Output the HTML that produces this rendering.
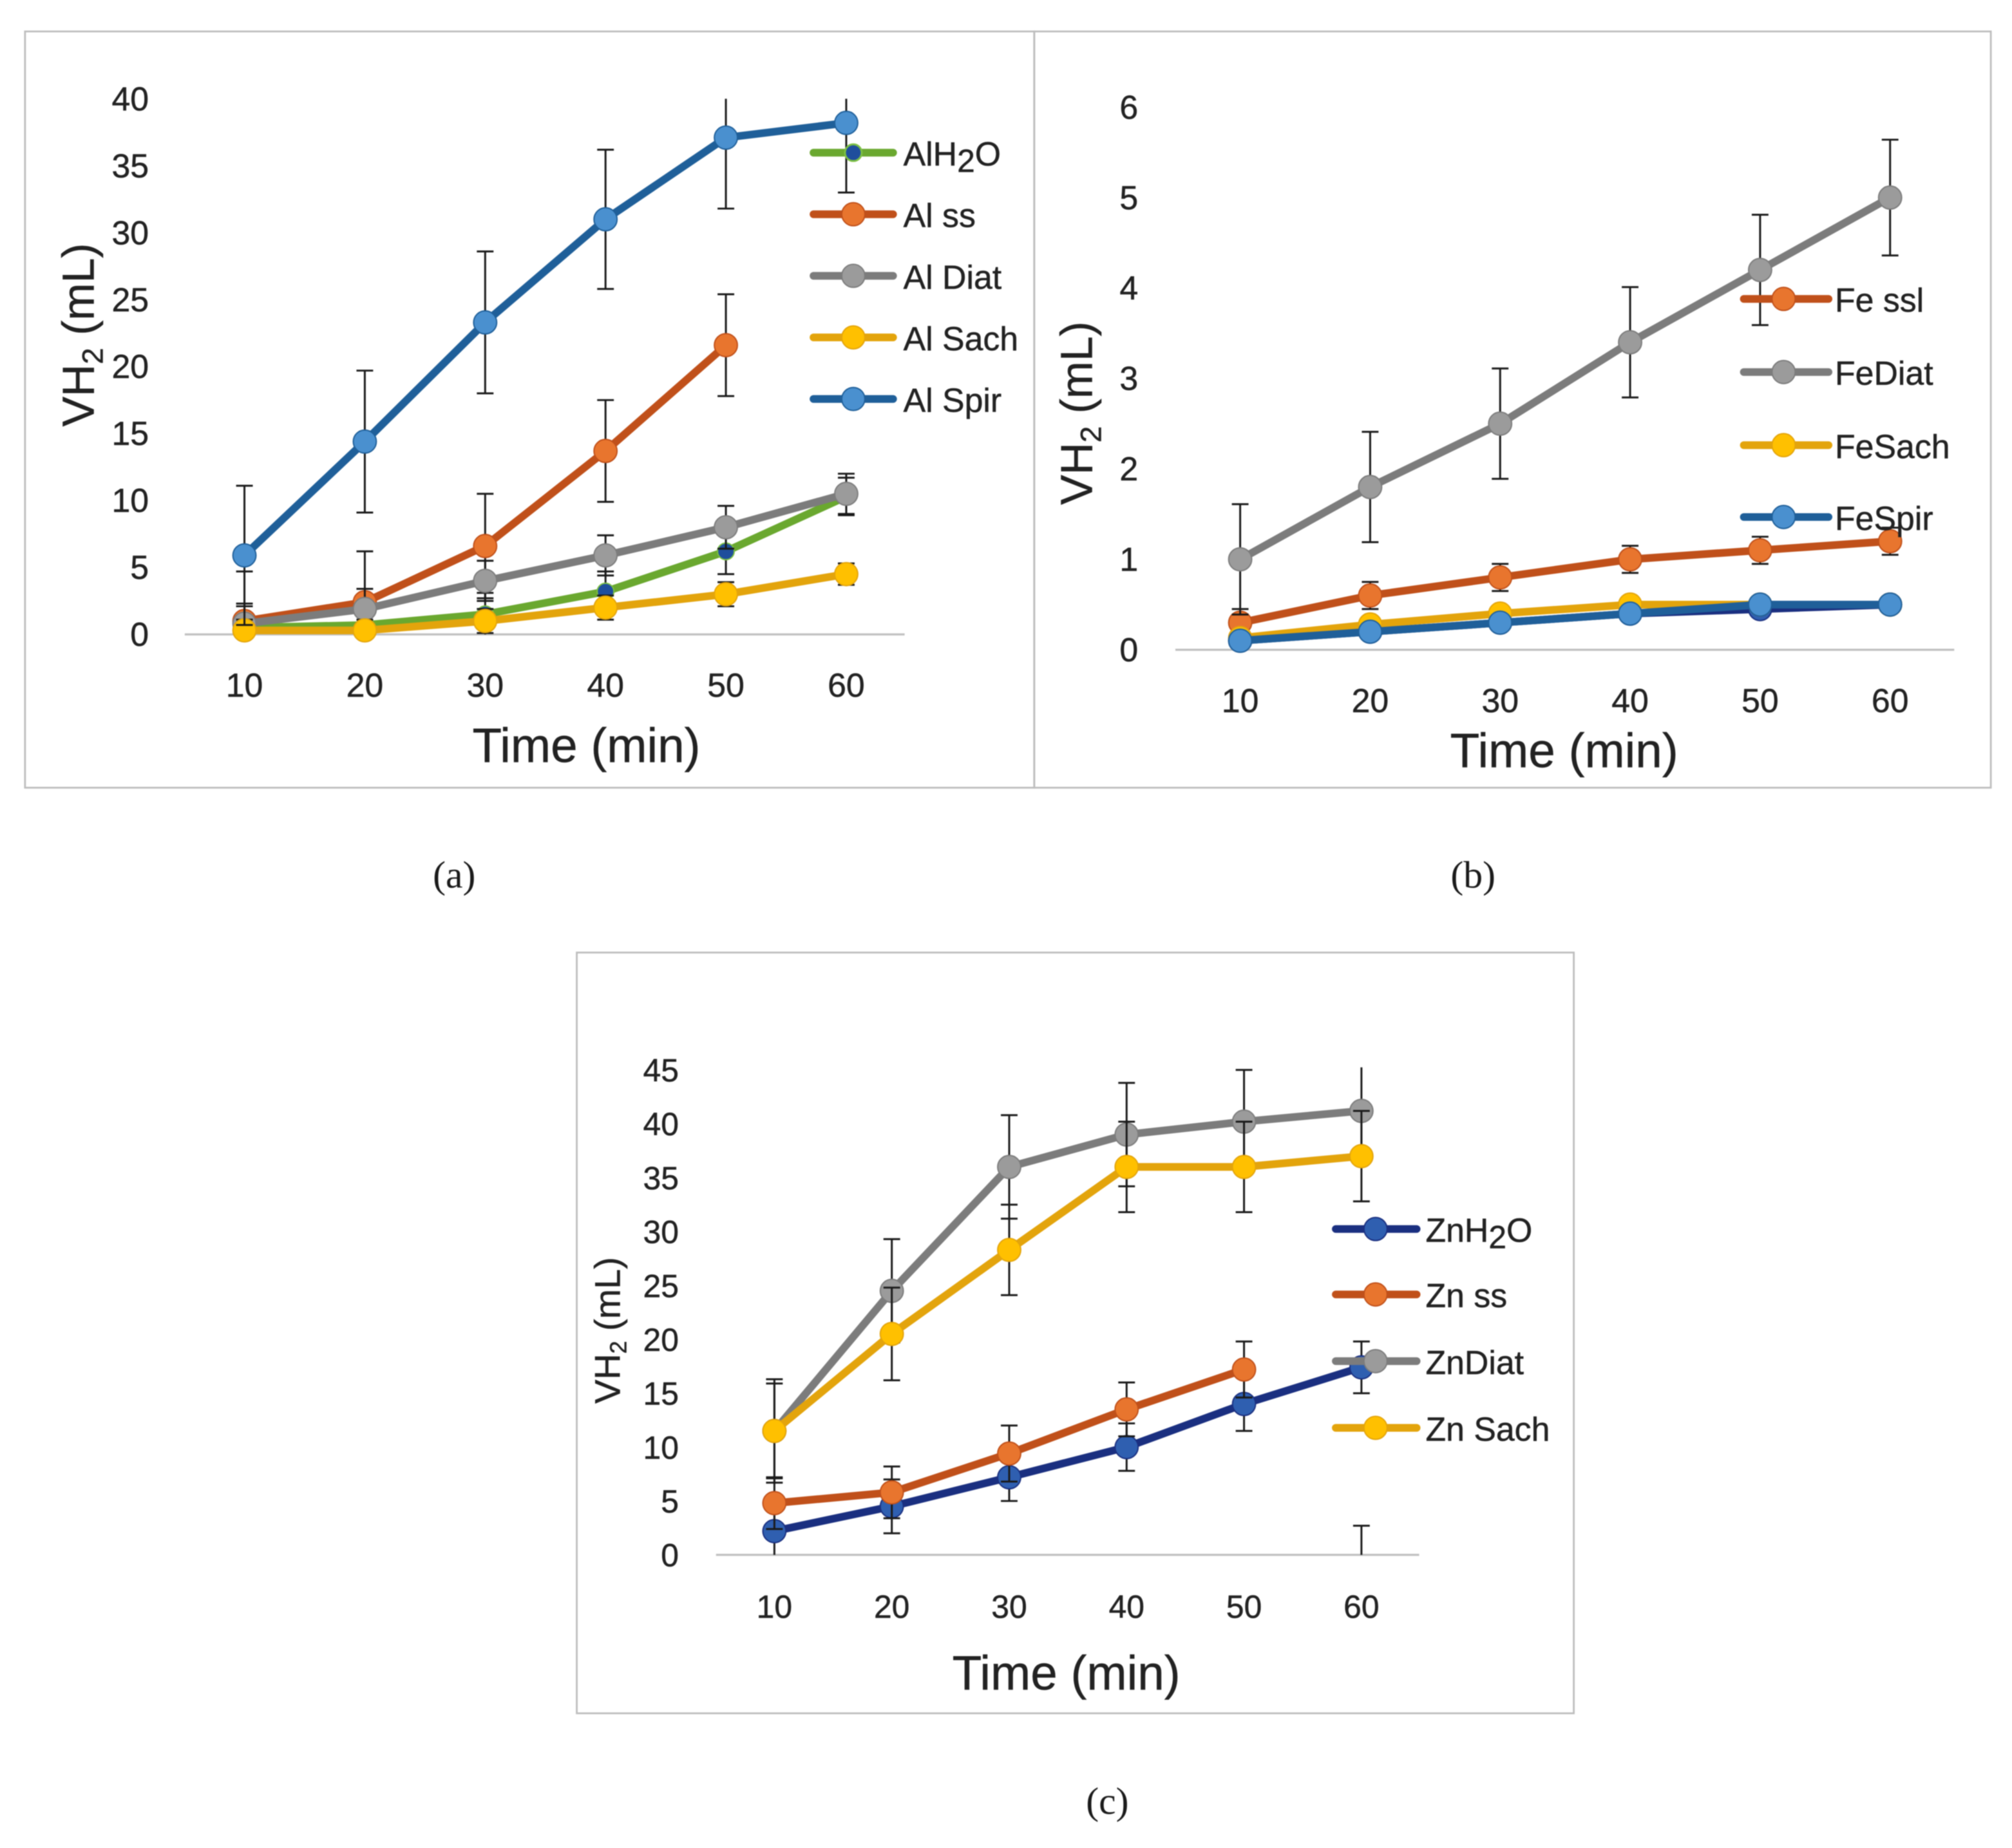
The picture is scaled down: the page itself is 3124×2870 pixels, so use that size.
<!DOCTYPE html>
<html lang="en">
<head>
<meta charset="utf-8">
<title>Hydrogen volume over time</title>
<style>
html,body{margin:0;padding:0;background:#fff;}
svg{display:block;filter:blur(0.8px);}
text{font-family:"Liberation Sans",sans-serif;fill:#222;stroke:#222;stroke-width:0.25px;}
.cap{font-family:"Liberation Serif",serif;font-size:30px;fill:#1a1a1a;text-anchor:middle;stroke:none;}
.leg{font-size:26px;}
.title{font-size:37.5px;text-anchor:middle;}
.frame{fill:none;stroke:#bdbdbd;stroke-width:1.4;}
.ll{stroke-width:6;fill:none;stroke-linecap:round;}
</style>
</head>
<body>
<svg id="fig" xmlns="http://www.w3.org/2000/svg" width="3124" height="2870" viewBox="0 0 1568 1440.5">
  <rect x="0" y="0" width="1568" height="1440.5" fill="#fff"/>
  <defs>
    <clipPath id="clipA"><rect x="100" y="77" width="640" height="417.5"/></clipPath>
    <clipPath id="clipB"><rect x="880" y="83.5" width="660" height="422.5"/></clipPath>
    <clipPath id="clipC"><rect x="540" y="832" width="600" height="380"/></clipPath>
  </defs>

  <rect class="frame" x="19.5" y="24.5" width="786.5" height="589.5"/>
  <rect class="frame" x="806" y="24.5" width="745.5" height="589.5"/>
  <rect class="frame" x="449.5" y="742.5" width="777" height="593"/>

  <g id="chartA"></g>
  <g id="chartB"></g>
  <g id="chartC"></g>

  <!-- titles -->
  <text class="title" x="457" y="594">Time (min)</text>
  <text class="title" x="1219" y="598">Time (min)</text>
  <text class="title" x="831" y="1317">Time (min)</text>
  <text class="title" style="font-size:35px" transform="translate(73,261) rotate(-90)">VH<tspan dy="7" font-size="23">2</tspan><tspan dy="-7"> (mL)</tspan></text>
  <text class="title" style="font-size:35px" transform="translate(851,322) rotate(-90)">VH<tspan dy="7" font-size="23">2</tspan><tspan dy="-7"> (mL)</tspan></text>
  <text class="title" style="font-size:28px" transform="translate(483,1037) rotate(-90)">VH<tspan dy="5" font-size="18">2</tspan><tspan dy="-5"> (mL)</tspan></text>

  <!-- legend A -->
  <g>
    <g><line class="ll" x1="634" x2="696" y1="119" y2="119" stroke="#6aa82f"/><circle cx="665" cy="119" r="6.5" fill="#1f4e9c" stroke="#7cc043" stroke-width="1.5"/><text class="leg" x="704" y="129">AlH<tspan dy="5" font-size="25">2</tspan><tspan dy="-5">O</tspan></text></g>
    <g><line class="ll" x1="634" x2="696" y1="167" y2="167" stroke="#c0501a"/><circle cx="665" cy="167" r="9" fill="#e8752e" stroke="#c0501a" stroke-width="1"/><text class="leg" x="704" y="177">Al ss</text></g>
    <g><line class="ll" x1="634" x2="696" y1="215" y2="215" stroke="#7c7c7c"/><circle cx="665" cy="215" r="9" fill="#9b9b9b" stroke="#7c7c7c" stroke-width="1"/><text class="leg" x="704" y="225">Al Diat</text></g>
    <g><line class="ll" x1="634" x2="696" y1="263" y2="263" stroke="#e3a40c"/><circle cx="665" cy="263" r="9" fill="#ffc000" stroke="#e3a40c" stroke-width="1"/><text class="leg" x="704" y="273">Al Sach</text></g>
    <g><line class="ll" x1="634" x2="696" y1="311" y2="311" stroke="#1f5f99"/><circle cx="665" cy="311" r="9" fill="#4a90cf" stroke="#1f5f99" stroke-width="1"/><text class="leg" x="704" y="321">Al Spir</text></g>
  </g>

  <!-- legend B -->
  <g>
    <g><line class="ll" x1="1359" x2="1425" y1="233" y2="233" stroke="#c0501a"/><circle cx="1390" cy="233" r="9" fill="#e8752e" stroke="#c0501a" stroke-width="1"/><text class="leg" x="1430" y="243">Fe ssl</text></g>
    <g><line class="ll" x1="1359" x2="1425" y1="290" y2="290" stroke="#7c7c7c"/><circle cx="1390" cy="290" r="9" fill="#9b9b9b" stroke="#7c7c7c" stroke-width="1"/><text class="leg" x="1430" y="300">FeDiat</text></g>
    <g><line class="ll" x1="1359" x2="1425" y1="347" y2="347" stroke="#e3a40c"/><circle cx="1390" cy="347" r="9" fill="#ffc000" stroke="#e3a40c" stroke-width="1"/><text class="leg" x="1430" y="357">FeSach</text></g>
    <g><line class="ll" x1="1359" x2="1425" y1="403" y2="403" stroke="#1f5f99"/><circle cx="1390" cy="403" r="9" fill="#4a90cf" stroke="#1f5f99" stroke-width="1"/><text class="leg" x="1430" y="413">FeSpir</text></g>
  </g>

  <!-- legend C -->
  <g>
    <g><line class="ll" x1="1041" x2="1104" y1="958" y2="958" stroke="#1a2f80"/><circle cx="1072" cy="958" r="9" fill="#2f5fb0" stroke="#1a2f80" stroke-width="1"/><text class="leg" x="1111" y="968">ZnH<tspan dy="5" font-size="25">2</tspan><tspan dy="-5">O</tspan></text></g>
    <g><line class="ll" x1="1041" x2="1104" y1="1009" y2="1009" stroke="#c0501a"/><circle cx="1072" cy="1009" r="9" fill="#e8752e" stroke="#c0501a" stroke-width="1"/><text class="leg" x="1111" y="1019">Zn ss</text></g>
    <g><line class="ll" x1="1041" x2="1104" y1="1061" y2="1061" stroke="#7c7c7c"/><circle cx="1072" cy="1061" r="9" fill="#9b9b9b" stroke="#7c7c7c" stroke-width="1"/><text class="leg" x="1111" y="1071">ZnDiat</text></g>
    <g><line class="ll" x1="1041" x2="1104" y1="1113" y2="1113" stroke="#e3a40c"/><circle cx="1072" cy="1113" r="9" fill="#ffc000" stroke="#e3a40c" stroke-width="1"/><text class="leg" x="1111" y="1123">Zn Sach</text></g>
  </g>

  <text class="cap" x="354" y="692">(a)</text>
  <text class="cap" x="1148" y="692">(b)</text>
  <text class="cap" x="863" y="1414">(c)</text>
</svg>

<script>
// Shared categories
const categories = [10, 20, 30, 40, 50, 60];

// Panel (a)
const yTicksA = [0, 5, 10, 15, 20, 25, 30, 35, 40];
const alH2oValues = [0.5, 0.7, 1.5, 3.2, 6.2, 10.3];
const alH2oErrors = [1.6, 1.6, 1.6, 1.5, 1.7, 1.4];
const alSsValues = [1.0, 2.4, 6.6, 13.7, 21.6, null];
const alSsErrors = [3.7, 3.8, 3.9, 3.8, 3.8, null];
const alDiatValues = [0.8, 1.9, 4.0, 5.9, 8.0, 10.5];
const alDiatErrors = [1.5, 1.5, 1.5, 1.5, 1.6, 1.5];
const alSachValues = [0.3, 0.3, 1.0, 2.0, 3.0, 4.5];
const alSachErrors = [0.8, 0.8, 0.9, 0.9, 0.9, 0.8];
const alSpirValues = [5.9, 14.4, 23.3, 31.0, 37.1, 38.2];
const alSpirErrors = [5.2, 5.3, 5.3, 5.2, 5.3, 5.2];

// Panel (b)
const yTicksB = [0, 1, 2, 3, 4, 5, 6];
const feH2oValues = [0.1, 0.2, 0.3, 0.4, 0.45, 0.5];
const feH2oErrors = [0.03, 0.03, 0.03, 0.03, 0.03, 0.03];
const feSslValues = [0.3, 0.6, 0.8, 1.0, 1.1, 1.2];
const feSslErrors = [0.15, 0.15, 0.15, 0.15, 0.15, 0.15];
const feDiatValues = [1.0, 1.8, 2.5, 3.4, 4.2, 5.0];
const feDiatErrors = [0.61, 0.61, 0.61, 0.61, 0.61, 0.64];
const feSachValues = [0.13, 0.28, 0.4, 0.5, 0.5, 0.5];
const feSachErrors = [0.03, 0.03, 0.03, 0.03, 0.03, 0.03];
const feSpirValues = [0.1, 0.2, 0.3, 0.4, 0.5, 0.5];
const feSpirErrors = [0.03, 0.03, 0.03, 0.03, 0.03, 0.03];

// Panel (c)
const yTicksC = [0, 5, 10, 15, 20, 25, 30, 35, 40, 45];
const znH2oValues = [2.2, 4.5, 7.2, 10.0, 14.0, 17.4];
const znH2oErrors = [2.4, 2.5, 2.2, 2.2, 2.5, 2.4];
const znSsValues = [4.8, 5.8, 9.4, 13.5, 17.2, null];
const znSsErrors = [2.4, 2.4, 2.6, 2.5, 2.6, null];
const znSsStrayValues = [null, null, null, null, null, 0];
const znSsStrayErrors = [null, null, null, null, null, 2.7];
const znDiatValues = [11.5, 24.5, 36.0, 39.0, 40.2, 41.2];
const znDiatErrors = [4.8, 4.8, 4.8, 4.8, 4.8, 4.8];
const znSachValues = [11.5, 20.5, 28.3, 36.0, 36.0, 37.0];
const znSachErrors = [4.4, 4.3, 4.2, 4.2, 4.2, 4.2];

const SVGNS = 'http://www.w3.org/2000/svg';
const STYLE_NAVY = { line: '#1a2f80', fill: '#2f5fb0', r: 9, edge: '#1a2f80' };
const STYLE_GREEN = { line: '#6aa82f', fill: '#1f4e9c', r: 6.5, edge: '#7cc043' };
const STYLE_ORANGE = { line: '#c0501a', fill: '#e8752e', r: 9, edge: '#c0501a' };
const STYLE_GREY = { line: '#7c7c7c', fill: '#9b9b9b', r: 9, edge: '#7c7c7c' };
const STYLE_YELLOW = { line: '#e3a40c', fill: '#ffc000', r: 9, edge: '#e3a40c' };
const STYLE_BLUE = { line: '#1f5f99', fill: '#4a90cf', r: 9, edge: '#1f5f99' };

function make(tag, attrs) {
  const el = document.createElementNS(SVGNS, tag);
  for (const k in attrs) el.setAttribute(k, attrs[k]);
  return el;
}

function linearScale(d0, d1, r0, r1) {
  return function (v) { return r0 + (v - d0) * (r1 - r0) / (d1 - d0); };
}

const xA = linearScale(10, 60, 190.5, 659.5);
const yA = linearScale(0, 40, 494.5, 77);
const xB = linearScale(10, 60, 966.5, 1473);
const yB = linearScale(0, 6, 506.5, 83.5);
const xC = linearScale(10, 60, 603.5, 1061);
const yC = linearScale(0, 45, 1212, 834);

function drawAxes(parent, prefix, x, y, yTicks, axisLeft, axisRight, labelRight, xLabelBaseline, fontSize) {
  const axis = make('line', { x1: axisLeft, x2: axisRight, y1: y(0), y2: y(0), stroke: '#bfbfbf', 'stroke-width': 1.6 });
  
  
  parent.appendChild(axis);
  yTicks.forEach(function (t) {
    const label = make('text', { x: labelRight, y: y(t) + 9, 'text-anchor': 'end', 'font-size': fontSize });
    
    
    label.textContent = t;
    parent.appendChild(label);
  });
  categories.forEach(function (c) {
    const label = make('text', { x: x(c), y: xLabelBaseline, 'text-anchor': 'middle', 'font-size': fontSize });
    
    
    label.textContent = c;
    parent.appendChild(label);
  });
}

function drawErrors(parent, name, values, errors, x, y, clipId) {
  const g = make('g', { stroke: '#1a1a1a', 'stroke-width': 1.5, fill: 'none', 'clip-path': 'url(#' + clipId + ')' });
  
  
  categories.forEach(function (c, i) {
    if (values[i] === null || errors[i] === null) return;
    const hi = y(values[i] + errors[i]);
    const lo = y(values[i] - errors[i]);
    const px = x(c);
    const stem = make('line', { x1: px, x2: px, y1: hi, y2: lo });
    
    
    g.appendChild(stem);
    const top = make('line', { x1: px - 6.5, x2: px + 6.5, y1: hi, y2: hi });
    
    
    g.appendChild(top);
    const bottom = make('line', { x1: px - 6.5, x2: px + 6.5, y1: lo, y2: lo });
    
    
    g.appendChild(bottom);
  });
  parent.appendChild(g);
}

function drawSeries(parent, name, values, errors, x, y, style, clipId) {
  drawErrors(parent, name, values, errors, x, y, clipId);
  const pts = [];
  categories.forEach(function (c, i) {
    if (values[i] !== null) pts.push(x(c).toFixed(1) + ',' + y(values[i]).toFixed(1));
  });
  const line = make('polyline', { points: pts.join(' '), fill: 'none', stroke: style.line, 'stroke-width': 6, 'stroke-linejoin': 'round', 'stroke-linecap': 'round' });
  
  
  parent.appendChild(line);
  categories.forEach(function (c, i) {
    if (values[i] === null) return;
    const dot = make('circle', { cx: x(c), cy: y(values[i]), r: style.r, fill: style.fill, stroke: style.edge, 'stroke-width': 1 });
    
    
    parent.appendChild(dot);
  });
}

const gA = document.getElementById('chartA');
const gB = document.getElementById('chartB');
const gC = document.getElementById('chartC');

drawAxes(gA, 'panel-a', xA, yA, yTicksA, 144, 705, 116, 543, 26);
drawSeries(gA, 'al-h2o', alH2oValues, alH2oErrors, xA, yA, STYLE_GREEN, 'clipA');
drawSeries(gA, 'al-ss', alSsValues, alSsErrors, xA, yA, STYLE_ORANGE, 'clipA');
drawSeries(gA, 'al-diat', alDiatValues, alDiatErrors, xA, yA, STYLE_GREY, 'clipA');
drawSeries(gA, 'al-sach', alSachValues, alSachErrors, xA, yA, STYLE_YELLOW, 'clipA');
drawSeries(gA, 'al-spir', alSpirValues, alSpirErrors, xA, yA, STYLE_BLUE, 'clipA');

drawAxes(gB, 'panel-b', xB, yB, yTicksB, 916, 1523, 887, 555, 26);
drawSeries(gB, 'fe-h2o', feH2oValues, feH2oErrors, xB, yB, STYLE_NAVY, 'clipB');
drawSeries(gB, 'fe-ssl', feSslValues, feSslErrors, xB, yB, STYLE_ORANGE, 'clipB');
drawSeries(gB, 'fe-diat', feDiatValues, feDiatErrors, xB, yB, STYLE_GREY, 'clipB');
drawSeries(gB, 'fe-sach', feSachValues, feSachErrors, xB, yB, STYLE_YELLOW, 'clipB');
drawSeries(gB, 'fe-spir', feSpirValues, feSpirErrors, xB, yB, STYLE_BLUE, 'clipB');

drawAxes(gC, 'panel-c', xC, yC, yTicksC, 558, 1106, 529, 1261, 25);
drawSeries(gC, 'zn-h2o', znH2oValues, znH2oErrors, xC, yC, STYLE_NAVY, 'clipC');
drawSeries(gC, 'zn-ss', znSsValues, znSsErrors, xC, yC, STYLE_ORANGE, 'clipC');
drawErrors(gC, 'zn-ss-stray', znSsStrayValues, znSsStrayErrors, xC, yC, 'clipC');
drawSeries(gC, 'zn-diat', znDiatValues, znDiatErrors, xC, yC, STYLE_GREY, 'clipC');
drawSeries(gC, 'zn-sach', znSachValues, znSachErrors, xC, yC, STYLE_YELLOW, 'clipC');
</script>
</body>
</html>
